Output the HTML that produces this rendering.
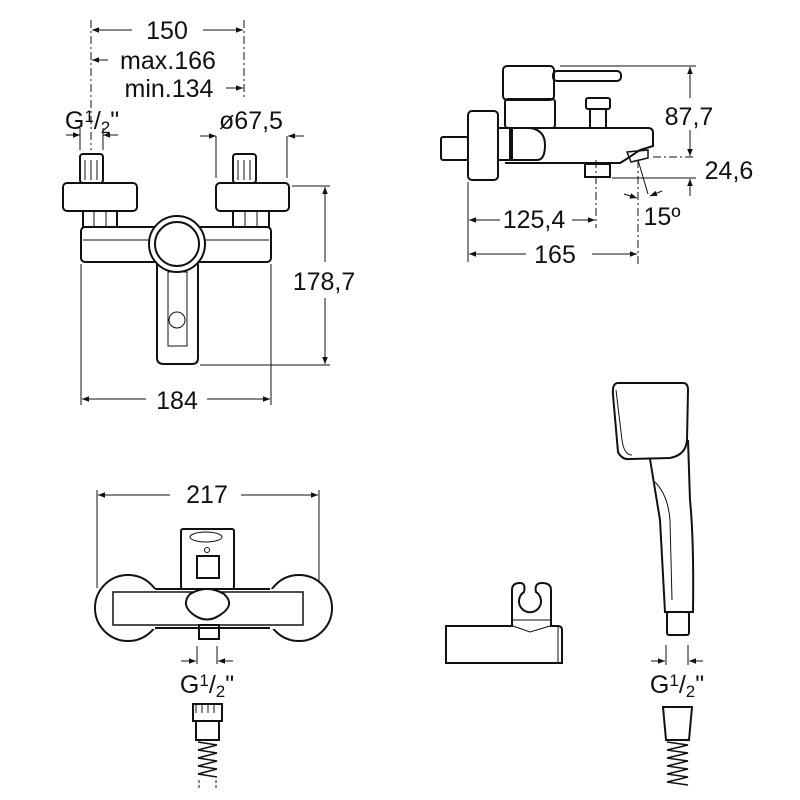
<!DOCTYPE html>
<html><head><meta charset="utf-8"><style>html,body{margin:0;padding:0;background:#fff}svg{display:block}</style></head>
<body>
<svg width="800" height="800" viewBox="0 0 800 800" xmlns="http://www.w3.org/2000/svg" font-family="Liberation Sans, Arial, sans-serif" fill="none" stroke="#111">
<defs>
<marker id="a" viewBox="0 0 10 10" refX="10" refY="5" markerWidth="9" markerHeight="7" orient="auto-start-reverse" markerUnits="userSpaceOnUse"><path d="M0,1 L10,5 L0,9 z" fill="#111" stroke="none"/></marker>
</defs>
<g font-size="25" fill="#111" stroke="none">
<text x="167" y="39" text-anchor="middle">150</text>
<text x="168" y="69" text-anchor="middle">max.166</text>
<text x="169" y="97" text-anchor="middle">min.134</text>
<text x="92" y="129" text-anchor="middle">G<tspan font-size="17" dy="-7">1</tspan><tspan dy="7">/</tspan><tspan font-size="17" dy="4">2</tspan><tspan dy="-4">"</tspan></text>
<text x="251" y="129" text-anchor="middle">ø67,5</text>
<text x="324" y="290" text-anchor="middle">178,7</text>
<text x="177" y="409" text-anchor="middle">184</text>
<text x="689" y="125" text-anchor="middle">87,7</text>
<text x="729" y="179" text-anchor="middle">24,6</text>
<text x="662" y="225" text-anchor="middle">15º</text>
<text x="534" y="228" text-anchor="middle">125,4</text>
<text x="555" y="263" text-anchor="middle">165</text>
<text x="207" y="503" text-anchor="middle">217</text>
<text x="207" y="693" text-anchor="middle">G<tspan font-size="17" dy="-7">1</tspan><tspan dy="7">/</tspan><tspan font-size="17" dy="4">2</tspan><tspan dy="-4">"</tspan></text>
<text x="677" y="693" text-anchor="middle">G<tspan font-size="17" dy="-7">1</tspan><tspan dy="7">/</tspan><tspan font-size="17" dy="4">2</tspan><tspan dy="-4">"</tspan></text>
</g>

<g stroke-width="1">
<line x1="91" y1="20" x2="91" y2="150" stroke-dasharray="8,3,2,3"/>
<line x1="244" y1="20" x2="244" y2="100" stroke-dasharray="8,3,2,3"/>
<line x1="132" y1="30" x2="92" y2="30" marker-end="url(#a)"/>
<line x1="203" y1="30" x2="243" y2="30" marker-end="url(#a)"/>
<line x1="108" y1="60" x2="92" y2="60" marker-end="url(#a)"/>
<line x1="226" y1="88" x2="243" y2="88" marker-end="url(#a)"/>
<line x1="66" y1="135" x2="80" y2="135" marker-end="url(#a)"/>
<line x1="118" y1="135" x2="103" y2="135" marker-end="url(#a)"/>
<line x1="80" y1="128" x2="80" y2="150"/><line x1="103" y1="128" x2="103" y2="150"/>
<line x1="200" y1="136" x2="216" y2="136" marker-end="url(#a)"/>
<line x1="304" y1="136" x2="288" y2="136" marker-end="url(#a)"/>
<line x1="216" y1="136" x2="216" y2="178"/><line x1="287" y1="136" x2="287" y2="178"/>
<line x1="292" y1="186" x2="330" y2="186"/>
<line x1="200" y1="365" x2="330" y2="365"/>
<line x1="325" y1="262" x2="325" y2="187" marker-end="url(#a)"/>
<line x1="325" y1="298" x2="325" y2="364" marker-end="url(#a)"/>
<line x1="81" y1="264" x2="81" y2="405"/><line x1="271" y1="264" x2="271" y2="405"/>
<line x1="146" y1="399" x2="82" y2="399" marker-end="url(#a)"/>
<line x1="207" y1="399" x2="270" y2="399" marker-end="url(#a)"/>
</g>
<g stroke-width="2">
<rect x="80" y="154" width="23" height="29" rx="3"/>
<rect x="233" y="154" width="23" height="29" rx="3"/>
<rect x="63" y="183" width="74" height="28" rx="4"/>
<rect x="216" y="183" width="73" height="28" rx="4"/>
<rect x="83" y="211" width="34" height="16"/>
<rect x="233" y="211" width="36" height="16"/>
<rect x="81" y="227" width="190" height="35" rx="4"/>
<path d="M157,262 L157,358 Q157,364 164,364 L192,364 Q198,364 198,358 L198,262"/>
<circle cx="177" cy="244" r="28" fill="#fff"/>
<circle cx="177" cy="244" r="22"/>
</g>
<g stroke-width="1">
<line x1="83" y1="240" x2="149" y2="240"/><line x1="205" y1="240" x2="269" y2="240"/>
<rect x="168" y="272" width="19" height="74"/>
<circle cx="177" cy="320" r="8"/>
<line x1="85" y1="160" x2="85" y2="180"/><line x1="91" y1="160" x2="91" y2="180"/><line x1="97" y1="160" x2="97" y2="180"/>
<line x1="238" y1="160" x2="238" y2="180"/><line x1="244" y1="160" x2="244" y2="180"/><line x1="250" y1="160" x2="250" y2="180"/>
<line x1="94" y1="211" x2="94" y2="227"/><line x1="106" y1="211" x2="106" y2="227"/>
<line x1="245" y1="211" x2="245" y2="227"/><line x1="257" y1="211" x2="257" y2="227"/>
</g>

<g stroke-width="2">
<rect x="441" y="137" width="27" height="23" rx="2"/>
<rect x="468" y="111" width="30" height="69" rx="4"/>
<rect x="498" y="128" width="12" height="32"/>
<path d="M505,128 L648,128 Q653,128 653,133 L653,146 L640,150 L625,160 L620,163 L505,163"/>
<path d="M512,128 L512,160 L537,160 Q545,160 545,145 Q545,130 530,128"/>
<rect x="505" y="99" width="50" height="29" rx="3"/>
<rect x="503" y="66" width="51" height="34" rx="4"/>
<rect x="553" y="71" width="68" height="10" rx="4"/>
<rect x="586" y="98" width="24" height="11" rx="2"/>
<rect x="590" y="109" width="16" height="19"/>
<rect x="585" y="164" width="25" height="13"/>
<path d="M627,152 L648,150 L648,158 L631,162 Z" stroke-width="1.5"/>
</g>
<g stroke-width="1">
<line x1="560" y1="66" x2="696" y2="66"/>
<line x1="653" y1="157" x2="696" y2="157" stroke-dasharray="8,3,2,3"/>
<line x1="612" y1="178" x2="696" y2="178"/>
<line x1="690" y1="98" x2="690" y2="67" marker-end="url(#a)"/>
<line x1="690" y1="130" x2="690" y2="156" marker-end="url(#a)"/>
<line x1="690" y1="196" x2="690" y2="179" marker-end="url(#a)"/>
<line x1="468" y1="182" x2="468" y2="262"/>
<line x1="596" y1="160" x2="596" y2="228" stroke-dasharray="8,3,2,3"/>
<line x1="638" y1="160" x2="638" y2="265" stroke-dasharray="8,3,2,3"/>
<line x1="638" y1="160" x2="648" y2="194"/>
<line x1="500" y1="220" x2="469" y2="220" marker-end="url(#a)"/>
<line x1="572" y1="220" x2="595" y2="220" marker-end="url(#a)"/>
<line x1="526" y1="254" x2="469" y2="254" marker-end="url(#a)"/>
<line x1="592" y1="254" x2="637" y2="254" marker-end="url(#a)"/>
<line x1="624" y1="194" x2="637" y2="198" marker-end="url(#a)"/>
<line x1="662" y1="191" x2="650" y2="196" marker-end="url(#a)"/>
</g>

<g stroke-width="1">
<line x1="97" y1="490" x2="97" y2="588"/><line x1="319" y1="490" x2="319" y2="588"/>
<line x1="170" y1="495" x2="98" y2="495" marker-end="url(#a)"/>
<line x1="241" y1="495" x2="318" y2="495" marker-end="url(#a)"/>
<line x1="197" y1="646" x2="197" y2="664"/><line x1="217" y1="646" x2="217" y2="664"/>
<line x1="181" y1="661" x2="196" y2="661" marker-end="url(#a)"/>
<line x1="233" y1="661" x2="218" y2="661" marker-end="url(#a)"/>
</g>
<g stroke-width="2">
<rect x="181" y="529" width="53" height="60" rx="2"/>
<circle cx="128" cy="608" r="33" fill="#fff"/>
<circle cx="299" cy="608" r="33" fill="#fff"/>
<rect x="113" y="589" width="190" height="40" fill="#fff" stroke="none"/>
<line x1="155" y1="589" x2="270" y2="589"/>
<line x1="155" y1="628" x2="270" y2="628"/>
<rect x="113" y="592" width="190" height="33" stroke-width="1.5"/>
<path d="M190,594 Q207,584 224,594 Q236,605 220,615 Q207,624 194,615 Q180,605 190,594 Z" fill="#fff"/>
<rect x="197" y="556" width="22" height="22" fill="#fff"/>
<rect x="199" y="625" width="20" height="14"/>
<rect x="193" y="704" width="29" height="17"/>
<rect x="196" y="721" width="23" height="19"/>
<path d="M198,742 L217,745 L198,750 L217,753 L198,758 L217,761 L198,766 L217,769 L198,774 L217,777" stroke-width="1.5"/>
</g>
<g stroke-width="1">
<ellipse cx="206" cy="537" rx="16" ry="5"/>
<circle cx="207" cy="550" r="2.5"/>
<line x1="196" y1="704" x2="196" y2="713"/><line x1="202" y1="704" x2="202" y2="713"/><line x1="208" y1="704" x2="208" y2="713"/><line x1="214" y1="704" x2="214" y2="713"/>
<line x1="199" y1="780" x2="199" y2="790" stroke-dasharray="3,2"/><line x1="216" y1="780" x2="216" y2="790" stroke-dasharray="3,2"/>
</g>

<g stroke-width="2">
<path d="M446,626 L512,626 L512,590 Q512,583 520,583 Q526,583 524,592 A11,11 0 1 0 536,592 Q534,583 542,583 Q551,583 551,590 L551,626 L558,626 Q562,626 562,630 L562,663 L446,663 Z"/>
</g>
<g stroke-width="1">
<line x1="513" y1="620" x2="550" y2="620"/>
<path d="M513,626 L530,632 L550,626"/>
<line x1="558" y1="627" x2="558" y2="662"/>
</g>

<g stroke-width="2">
<path d="M618,383 L683,383 Q688,383 688,390 L687,440 Q686,455 670,458 L630,459 Q622,460 618,452 L613,395 Q612,383 618,383 Z"/>
<path d="M650,459 Q655,490 660,520 L665,612 L693,612 Q694,540 690,500 L688,440"/>
<rect x="667" y="612" width="22" height="23" rx="2"/>
<path d="M663,707 L692,707 L689,740 L666,740 Z"/>
<path d="M667,742 L688,745 L667,750 L688,753 L667,758 L688,761 L667,766 L688,769 L667,774 L688,777 L667,782 L688,785" stroke-width="1.5"/>
</g>
<g stroke-width="1">
<path d="M616,390 L622,440 Q624,455 632,455"/>
<path d="M655,482 Q668,495 670,520 L672,600"/>
<line x1="666" y1="645" x2="666" y2="665"/><line x1="688" y1="645" x2="688" y2="665"/>
<line x1="651" y1="661" x2="665" y2="661" marker-end="url(#a)"/>
<line x1="703" y1="661" x2="689" y2="661" marker-end="url(#a)"/>
</g>
</svg>
</body></html>
